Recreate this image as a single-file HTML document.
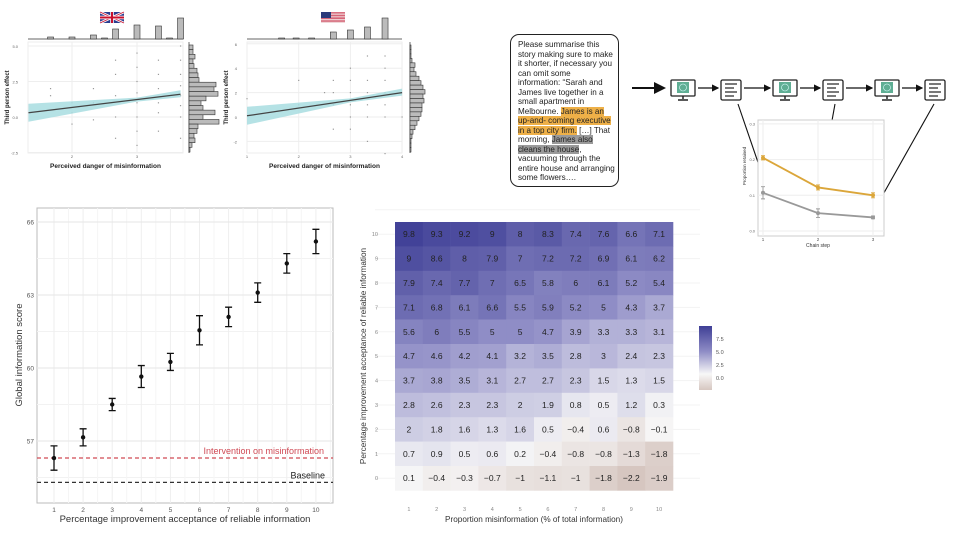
<!DOCTYPE html>
<html><head><meta charset="utf-8">
<style>
html,body{margin:0;padding:0;background:#fff;}
body{width:960px;height:540px;overflow:hidden;position:relative;font-family:"Liberation Sans",sans-serif;}
#story{position:absolute;left:510px;top:34px;width:109px;height:153px;border:1.5px solid #222;border-radius:9px;box-sizing:border-box;padding:5px 0 0 7px;font-size:8.1px;line-height:9.5px;color:#222;white-space:nowrap;}
.hl-o{background:#eeb048;}
.hl-g{background:#9a9a9a;}
svg{position:absolute;left:0;top:0;}
</style></head>
<body>
<svg id="main" width="960" height="540">
<defs>
<marker id="ah" markerWidth="6" markerHeight="6" refX="5" refY="3" orient="auto"><path d="M0,0 L6,3 L0,6 z" fill="#111"/></marker>
<linearGradient id="cbar" x1="0" y1="1" x2="0" y2="0">
<stop offset="0" stop-color="#d6c6c0"/><stop offset="0.25" stop-color="#f7f7f7"/><stop offset="0.6" stop-color="#8f8dc6"/><stop offset="1" stop-color="#3f3f96"/></linearGradient>
</defs>
<g id="scatterL"></g>
<g id="scatterR"></g>
<g id="flow"></g>
<g id="chain"></g>
<g id="dots"></g>
<g id="heat"></g>
</svg>
<div id="story">Please summarise this<br>story making sure to make<br>it shorter, if necessary you<br>can omit some<br>information: “Sarah and<br>James live together in a<br>small apartment in<br>Melbourne. <span class="hl-o">James is an</span><br><span class="hl-o">up-and- coming executive</span><br><span class="hl-o">in a top city firm.</span> […] That<br>morning, <span class="hl-g">James also</span><br><span class="hl-g">cleans the house</span>,<br>vacuuming through the<br>entire house and arranging<br>some flowers….</div>
<script>
// ---------- DATA ----------
const dotCats=[1,2,3,4,5,6,7,8,9,10];
const dotVals=[56.3,57.15,58.5,59.65,60.25,61.55,62.1,63.1,64.3,65.2];
const dotErr=[0.5,0.35,0.25,0.45,0.35,0.6,0.4,0.4,0.4,0.5];
const dotYTicks=[57,60,63,66];
const interventionVal=56.3;
const baselineVal=55.3;

const heatCols=[1,2,3,4,5,6,7,8,9,10];
const heatRows=[10,9,8,7,6,5,4,3,2,1,0];
const heatVals=[
[9.8,9.3,9.2,9,8,8.3,7.4,7.6,6.6,7.1],
[9,8.6,8,7.9,7,7.2,7.2,6.9,6.1,6.2],
[7.9,7.4,7.7,7,6.5,5.8,6,6.1,5.2,5.4],
[7.1,6.8,6.1,6.6,5.5,5.9,5.2,5,4.3,3.7],
[5.6,6,5.5,5,5,4.7,3.9,3.3,3.3,3.1],
[4.7,4.6,4.2,4.1,3.2,3.5,2.8,3,2.4,2.3],
[3.7,3.8,3.5,3.1,2.7,2.7,2.3,1.5,1.3,1.5],
[2.8,2.6,2.3,2.3,2,1.9,0.8,0.5,1.2,0.3],
[2,1.8,1.6,1.3,1.6,0.5,-0.4,0.6,-0.8,-0.1],
[0.7,0.9,0.5,0.6,0.2,-0.4,-0.8,-0.8,-1.3,-1.8],
[0.1,-0.4,-0.3,-0.7,-1,-1.1,-1,-1.8,-2.2,-1.9]];
const cbarTicks=[7.5,5.0,2.5,0.0];

const chainSteps=[1,2,3];
const chainOrange=[0.205,0.122,0.10];
const chainGray=[0.107,0.05,0.038];
const chainOrangeErr=[0.006,0.007,0.007];
const chainGrayErr=[0.017,0.012,0.004];
const chainYTicks=[0,0.1,0.2,0.3];

const ukTopHistX=[1.67,2,2.33,2.5,2.67,3,3.33,3.5,3.67];
const ukTopHistH=[2,2,4,1,10,14,13,1,21];
const ukSideHist=[4,4,6,4,5,8,9,10,27,25,29,17,12,14,26,14,30,9,8,5,6,3,1];
const ukYTicks=[-2.5,0,2.5,5];
const ukXTicks=[2,3];
const ukPtsX=[2,2,2,2.33,2.33,2.33,2.67,2.67,2.67,2.67,2.67,3,3,3,3,3,3,3,3,3.33,3.33,3.33,3.33,3.33,3.33,3.67,3.67,3.67,3.67,3.67,3.67,3.67,3.67,1.67,1.67];
const ukPtsY=[1,0.3,-0.5,2,1,-0.2,4,3,1.5,0,-1.5,4.5,3.5,2.5,1.7,1,0,-1,-2,4,3,2,1,0.3,-1,5,4,3,2.2,1.5,0.8,0,-1.5,1.5,2];
const ukFit=[0.3,1.6];

const usTopHistX=[1.67,1.95,2.25,2.67,3,3.33,3.67,3.97];
const usTopHistH=[1,1,1,7,9,12,21,0];
const usSideHist=[1,1,1,2,5,4,6,9,11,13,15,13,14,12,12,11,9,7,5,3,2,1,1,1];
const usYTicks=[-2,0,2,4,6];
const usXTicks=[1,2,3,4];
const usPtsX=[1.6,2,2,2.5,2.67,2.67,2.67,2.67,3,3,3,3,3,3,3.33,3.33,3.33,3.33,3.33,3.33,3.67,3.67,3.67,3.67,3.67,3.67,3.67,1,4];
const usPtsY=[0.5,1,3,2,3,2,1,-1,4,3,2,1,0,-1,5,3,2,1,0,-2,5,4,3,2,1,0,-3,1.5,0];
const usFit=[0.1,2.0];

// ---------- helpers ----------
const NS='http://www.w3.org/2000/svg';
function mk(parent,tag,attrs,txt){const e=document.createElementNS(NS,tag);for(const k in attrs)e.setAttribute(k,attrs[k]);if(txt!==undefined)e.textContent=txt;parent.appendChild(e);return e;}

// ---------- scatter plots ----------
function scatter(g,o){
  const sx=v=>o.x0+(v-o.xv0)*o.xs, sy=v=>o.y0-(v-o.yv0)*o.ys;
  mk(g,'rect',{x:o.L,y:o.T,width:o.R-o.L,height:o.B-o.T,fill:'#fff',stroke:'#eee'});
  o.yt.forEach(t=>{mk(g,'line',{x1:o.L,x2:o.R,y1:sy(t),y2:sy(t),stroke:'#eee'});
    const tx=mk(g,'text',{x:o.L-10,y:sy(t)+2,'font-size':4,fill:'#666','text-anchor':'end'},t.toFixed(o.yd));
    });
  o.xt.forEach(t=>{mk(g,'line',{x1:sx(t),x2:sx(t),y1:o.T,y2:o.B,stroke:'#eee'});
    const tx=mk(g,'text',{x:sx(t),y:o.B+5,'font-size':4,fill:'#666','text-anchor':'middle'},t);
    });
  o.px.forEach((v,i)=>{const c=mk(g,'rect',{x:sx(v)-0.6,y:sy(o.py[i])-0.6,width:1.2,height:1.2,fill:'#999'});
    });
  const xa=o.xMin,xb=o.xMax;
  const f=v=>o.fit[0]+(v-xa)/(xb-xa)*(o.fit[1]-o.fit[0]);
  const band=mk(g,'path',{d:`M${sx(xa)},${sy(f(xa))-9} L${sx(3)},${sy(f(3))-2} L${sx(xb)},${sy(f(xb))-4} L${sx(xb)},${sy(f(xb))+3} L${sx(3)},${sy(f(3))+2} L${sx(xa)},${sy(f(xa))+9}Z`,fill:'#a8dde0',opacity:0.85});
  
  const ln=mk(g,'line',{x1:sx(xa),y1:sy(f(xa)),x2:sx(xb),y2:sy(f(xb)),stroke:'#444','stroke-width':1.2});
  
  mk(g,'line',{x1:o.L,x2:o.R,y1:39,y2:39,stroke:'#333','stroke-width':0.7});
  o.thx.forEach((v,i)=>{const b=mk(g,'rect',{x:sx(v)-3,y:39-o.thh[i],width:6,height:o.thh[i],fill:'#bbb',stroke:'#333','stroke-width':0.6});
    });
  const bh=(o.B-o.T-4)/o.sh.length;
  mk(g,'line',{x1:o.hx,x2:o.hx,y1:o.T,y2:o.B,stroke:'#333','stroke-width':0.7});
  o.sh.forEach((v,i)=>{const b=mk(g,'rect',{x:o.hx,y:o.T+3+i*bh,width:v,height:bh,fill:'#bbb',stroke:'#333','stroke-width':0.6});
    });
  const yt=mk(g,'text',{x:0,y:0,'font-size':6,'font-weight':'bold',fill:'#222','text-anchor':'middle',transform:`translate(${o.L-19},${(o.T+o.B)/2}) rotate(-90)`},'Third person effect');
  
  const xt=mk(g,'text',{x:(o.L+o.R)/2,y:168,'font-size':6.5,'font-weight':'bold',fill:'#222','text-anchor':'middle'},'Perceived danger of misinformation');
  
}
scatter(document.getElementById('scatterL'),{L:28,R:183,T:42,B:153,x0:72,xv0:2,xs:65,y0:117,yv0:0,ys:14.2,yt:ukYTicks,xt:ukXTicks,yd:1,px:ukPtsX,py:ukPtsY,fit:ukFit,xMin:1.33,xMax:3.67,thx:ukTopHistX,thh:ukTopHistH,sh:ukSideHist,hx:189});
scatter(document.getElementById('scatterR'),{L:247,R:402,T:42,B:153,x0:247,xv0:1,xs:51.7,y0:117,yv0:0,ys:12.2,yt:usYTicks,xt:usXTicks,yd:0,px:usPtsX,py:usPtsY,fit:usFit,xMin:1,xMax:4,thx:usTopHistX,thh:usTopHistH,sh:usSideHist,hx:410});

(function(){const s=document.getElementById('main');
 const uk=mk(s,'g',{});
 mk(uk,'rect',{x:100,y:12,width:24,height:11,fill:'#2b3d8f'});
 mk(uk,'path',{d:'M100,12 L124,23 M124,12 L100,23',stroke:'#fff','stroke-width':2.5});
 mk(uk,'path',{d:'M100,12 L124,23 M124,12 L100,23',stroke:'#c8102e','stroke-width':0.8});
 mk(uk,'path',{d:'M112,12 V23 M100,17.5 H124',stroke:'#fff','stroke-width':3.5});
 mk(uk,'path',{d:'M112,12 V23 M100,17.5 H124',stroke:'#c8102e','stroke-width':2});
 const us=mk(s,'g',{});
 for(let i=0;i<7;i++){mk(us,'rect',{x:321,y:12+i*(11/7),width:24,height:11/14,fill:'#c8304a'});mk(us,'rect',{x:321,y:12+i*(11/7)+11/14,width:24,height:11/14,fill:'#f3e3e3'});}
 mk(us,'rect',{x:321,y:12,width:10,height:6,fill:'#2a3a7a'});
})();

// ---------- flow diagram ----------
(function(){const g=document.getElementById('flow');
 const a=mk(g,'line',{x1:632,y1:88,x2:664,y2:88,stroke:'#111','stroke-width':2,'marker-end':'url(#ah)'});
 
 const mons=[671,773,875],docs=[721,823,925];
 mons.forEach((x,i)=>{const m=mk(g,'g',{});
  mk(m,'rect',{x:x,y:80,width:24,height:16,fill:'#fff',stroke:'#222','stroke-width':1.3,rx:1});
  mk(m,'rect',{x:x+6,y:82,width:12,height:11,fill:'#5fae94'});
  mk(m,'circle',{cx:x+12,cy:87.5,r:3.5,fill:'none',stroke:'#dff','stroke-width':0.6});
  mk(m,'line',{x1:x+12,y1:96,x2:x+12,y2:99,stroke:'#222','stroke-width':1.5});
  mk(m,'line',{x1:x+7,y1:100,x2:x+17,y2:100,stroke:'#222','stroke-width':1.5});
  const ar=mk(g,'line',{x1:x+27,y1:88,x2:docs[i]-3,y2:88,stroke:'#111','stroke-width':1.2,'marker-end':'url(#ah)'});
  
 });
 docs.forEach((x,i)=>{const d=mk(g,'g',{});
  mk(d,'rect',{x:x,y:80,width:20,height:20,fill:'#fff',stroke:'#222','stroke-width':1.3,rx:1.5});
  [84,88,92,96].forEach((y,j)=>mk(d,'line',{x1:x+4,x2:x+(j%2?13:16),y1:y,y2:y,stroke:'#222','stroke-width':1.2}));
  if(i<2){const ar=mk(g,'line',{x1:x+23,y1:88,x2:mons[i+1]-3,y2:88,stroke:'#111','stroke-width':1.2,'marker-end':'url(#ah)'});
   }
 });
 [[738,104,763,177],[835,104,818,198],[934,104,876,207]].forEach(c=>{const l=mk(g,'line',{x1:c[0],y1:c[1],x2:c[2],y2:c[3],stroke:'#111','stroke-width':1.1,'marker-end':'url(#ah)'});
  });
})();

// ---------- chain chart ----------
(function(){const g=document.getElementById('chain');
 const L=763,R=879,T=120,B=236;
 const sx=v=>763+(v-1)*55, sy=v=>231-v*357;
 const bg=mk(g,'rect',{x:L-5,y:T,width:R-L+10,height:B-T,fill:'#fff',stroke:'#ccc'});
 g.insertBefore(bg,g.firstChild);
 chainYTicks.forEach(t=>{mk(g,'line',{x1:L-5,x2:R+5,y1:sy(t),y2:sy(t),stroke:'#eee'});
  const tx=mk(g,'text',{x:L-8,y:sy(t)+1.5,'font-size':4,fill:'#666','text-anchor':'end'},t.toFixed(1));
  });
 chainSteps.forEach(t=>{mk(g,'line',{x1:sx(t),x2:sx(t),y1:T,y2:B,stroke:'#eee'});
  const tx=mk(g,'text',{x:sx(t),y:B+5,'font-size':4.5,fill:'#555','text-anchor':'middle'},t);
  });
 [[chainOrange,chainOrangeErr,'#dba63a','orange-series'],[chainGray,chainGrayErr,'#999','gray-series']].forEach(s=>{
  const p=mk(g,'polyline',{points:s[0].map((v,i)=>sx(chainSteps[i])+','+sy(v)).join(' '),fill:'none',stroke:s[2],'stroke-width':1.8});
  
  s[0].forEach((v,i)=>{const x=sx(chainSteps[i]);
   const e=mk(g,'path',{d:`M${x},${sy(v+s[1][i])}V${sy(v-s[1][i])}M${x-2},${sy(v+s[1][i])}H${x+2}M${x-2},${sy(v-s[1][i])}H${x+2}`,stroke:s[2],'stroke-width':0.9});
   
   const c=mk(g,'circle',{cx:x,cy:sy(v),r:2,fill:s[2]});});
 });
 const xt=mk(g,'text',{x:818,y:247,'font-size':5,fill:'#333','text-anchor':'middle'},'Chain step');
 
 const yt=mk(g,'text',{x:0,y:0,'font-size':4.5,fill:'#333','text-anchor':'middle',transform:'translate(746,166) rotate(-90)'},'Proportion retained');
 
})();

// ---------- dot chart ----------
(function(){const g=document.getElementById('dots');
 const L=37,R=333,T=208,B=503;
 const sx=v=>54+(v-1)*29.1, sy=v=>441-(v-57)*24.33;
 mk(g,'rect',{x:L,y:T,width:R-L,height:B-T,fill:'#fff',stroke:'#bbb'});
 for(let v=55.5;v<=66.5;v+=1.5){mk(g,'line',{x1:L,x2:R,y1:sy(v),y2:sy(v),stroke:'#f2f2f2'});}
 dotCats.forEach(c=>{mk(g,'line',{x1:sx(c),x2:sx(c),y1:T,y2:B,stroke:'#eee'});
  mk(g,'line',{x1:sx(c)+14.5,x2:sx(c)+14.5,y1:T,y2:B,stroke:'#f5f5f5'});
  const t=mk(g,'text',{x:sx(c),y:B+9,'font-size':6.5,fill:'#555','text-anchor':'middle'},c);
  });
 dotYTicks.forEach(v=>{mk(g,'line',{x1:L,x2:R,y1:sy(v),y2:sy(v),stroke:'#e6e6e6'});
  const t=mk(g,'text',{x:L-3,y:sy(v)+2.5,'font-size':6.5,fill:'#555','text-anchor':'end'},v);
  });
 const il=mk(g,'line',{x1:L,x2:R,y1:sy(interventionVal),y2:sy(interventionVal),stroke:'#d04a55','stroke-width':1.2,'stroke-dasharray':'4,3'});
 
 const bl=mk(g,'line',{x1:L,x2:R,y1:sy(baselineVal),y2:sy(baselineVal),stroke:'#333','stroke-width':1.2,'stroke-dasharray':'4,3'});
 
 const it=mk(g,'text',{x:324,y:sy(interventionVal)-4,'font-size':9,fill:'#d04a55','text-anchor':'end'},'Intervention on misinformation');
 
 const bt=mk(g,'text',{x:325,y:sy(baselineVal)-4,'font-size':9,fill:'#222','text-anchor':'end'},'Baseline');
 
 dotCats.forEach((c,i)=>{const x=sx(c),v=dotVals[i],e=dotErr[i];
  const p=mk(g,'path',{d:`M${x},${sy(v+e)}V${sy(v-e)}M${x-3.5},${sy(v+e)}H${x+3.5}M${x-3.5},${sy(v-e)}H${x+3.5}`,stroke:'#111','stroke-width':1.3,fill:'none'});
  
  const d=mk(g,'circle',{cx:x,cy:sy(v),r:2.2,fill:'#111'});});
 const xt=mk(g,'text',{x:185,y:522,'font-size':9.5,fill:'#333','text-anchor':'middle'},'Percentage improvement acceptance of reliable information');
 
 const yt=mk(g,'text',{x:0,y:0,'font-size':9.5,fill:'#333','text-anchor':'middle',transform:'translate(22,355) rotate(-90)'},'Global information score');
 
})();

// ---------- heatmap ----------
(function(){const g=document.getElementById('heat');
 const cw=27.8,rh=24.4,x0=395,y0=222;
 function lerp(a,b,t){return a.map((v,i)=>Math.round(v+(b[i]-v)*t));}
 function col(v){const hi=[63,63,150],mid=[143,141,198],w=[247,247,247],neg=[214,198,192];
  let c; if(v>=5)c=lerp(mid,hi,Math.min(1,(v-5)/5)); else if(v>=0)c=lerp(w,mid,v/5); else c=lerp(w,neg,Math.min(1,-v/2.2));
  return `rgb(${c})`;}
 for(let i=0;i<12;i++){mk(g,'line',{x1:375,x2:700,y1:y0+rh*(i-0.5),y2:y0+rh*(i-0.5),stroke:'#f3f3f3'});}
 heatRows.forEach((r,ri)=>{heatCols.forEach((c,ci)=>{const v=heatVals[ri][ci];
  const x=x0+ci*cw,y=y0+ri*rh;
  const rc=mk(g,'rect',{x:x,y:y,width:cw+0.3,height:rh+0.3,fill:col(v)});
  
  const t=mk(g,'text',{x:x+cw/2,y:y+rh/2+3,'font-size':8.5,fill:'#222','text-anchor':'middle'},String(v).replace('-','−'));
  });
  const t=mk(g,'text',{x:378,y:y0+ri*rh+rh/2+2,'font-size':5.5,fill:'#888','text-anchor':'end'},r);
  });
 heatCols.forEach((c,ci)=>{const t=mk(g,'text',{x:x0+ci*cw+cw/2,y:511,'font-size':5.5,fill:'#888','text-anchor':'middle'},c);
  });
 const xt=mk(g,'text',{x:534,y:522,'font-size':8.2,fill:'#333','text-anchor':'middle'},'Proportion misinformation (% of total information)');
 
 const yt=mk(g,'text',{x:0,y:0,'font-size':8.2,fill:'#333','text-anchor':'middle',transform:'translate(366,356) rotate(-90)'},'Percentage improvement acceptance of reliable information');
 
 const cb=mk(g,'rect',{x:699,y:326,width:13,height:64,fill:'url(#cbar)'});
 
 const cy=v=>378-v*5.2;
 cbarTicks.forEach(v=>{const t=mk(g,'text',{x:716,y:cy(v)+2,'font-size':5.5,fill:'#555'},v.toFixed(1));
  });
})();
</script>
</body></html>
